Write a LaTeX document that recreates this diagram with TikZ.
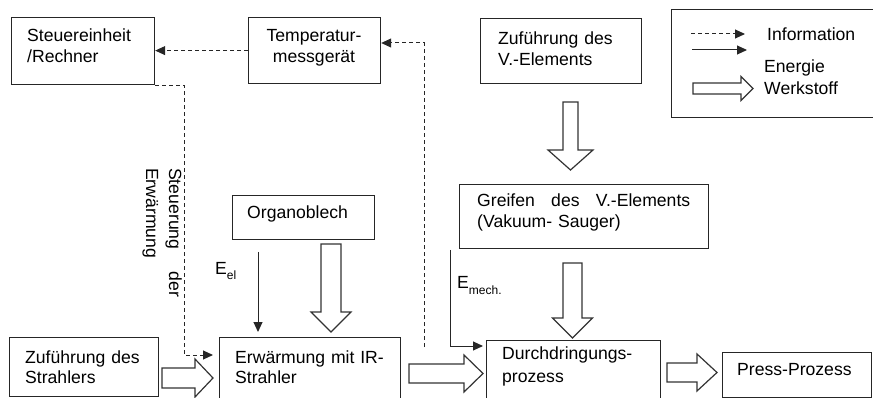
\documentclass[tikz,border=0pt]{standalone}
\usepackage{fontspec}
\setmainfont{Liberation Sans}
\usetikzlibrary{arrows.meta}

% hollow material-flow arrows
% \matright{x start}{head start}{tip}{y centre}{shaft half}{head half}
\newcommand\matright[6]{%
  \draw[mat] (#1,#4-#5) -- (#2,#4-#5) -- (#2,#4-#6) -- (#3,#4)
    -- (#2,#4+#6) -- (#2,#4+#5) -- (#1,#4+#5) -- cycle;}
% \matdown{y start}{head start}{tip}{x centre}{shaft half}{head half}
\newcommand\matdown[6]{%
  \draw[mat] (#4-#5,#1) -- (#4-#5,#2) -- (#4-#6,#2) -- (#4,#3)
    -- (#4+#6,#2) -- (#4+#5,#2) -- (#4+#5,#1) -- cycle;}

\begin{document}
\begin{tikzpicture}[x=1pt,y=-1pt,
  box/.style={draw=black!85, line width=1.2pt, rectangle, inner sep=0pt,
    anchor=north west},
  txt/.style={inner sep=0pt, anchor=base west, align=left, text width=175pt,
    font=\fontsize{17.6}{20.5}\selectfont},
  info/.style={draw=black!85, line width=1pt, dash pattern=on 4pt off 3pt,
    -{Triangle[length=10pt,width=9pt]}},
  energy/.style={draw=black!85, line width=1pt,
    -{Triangle[length=10pt,width=9pt]}},
  mat/.style={draw=black!80, line width=1.2pt, fill=white, line join=miter},
]
\useasboundingbox (0,0) rectangle (873,398);
\clip (0,0) rectangle (873,398);

% boxes
\node[box, minimum width=143pt, minimum height=67pt] (steuer)  at (11,17)  {};
\node[box, minimum width=132pt, minimum height=66pt] (temp)    at (248,17) {};
\node[box, minimum width=161pt, minimum height=65pt] (zufv)    at (480,18) {};
\node[box, minimum width=210pt, minimum height=108pt] (legend) at (671,9)  {};
\node[box, minimum width=249pt, minimum height=64pt] (greifen) at (459,184) {};
\node[box, minimum width=142pt, minimum height=44pt] (organo)  at (232,195) {};
\node[box, minimum width=149pt, minimum height=59pt] (zufs)    at (9,337)  {};
\node[box, minimum width=181pt, minimum height=70pt] (erw)     at (219,337) {};
\node[box, minimum width=174pt, minimum height=70pt] (durch)   at (486,340) {};
\node[box, minimum width=149pt, minimum height=45pt] (press)   at (722,352) {};

% box texts
\node[txt] (steuer-t) at (27,42) {Steuereinheit\\/Rechner};
\node[txt, anchor=base, align=center, text width=132pt] (temp-t) at (314,42)
  {Temperatur-\\messgerät};
\node[txt] (zufv-t) at (498,45) {Zuführung des\\V.-Elements};
\node[txt, text width=213pt] (greifen-t) at (477,207)
  {Greifen\hfill des\hfill V.-Elements\\(Vakuum- Sauger)};
\node[txt] (organo-t) at (247,219) {Organoblech};
\node[txt] (zufs-t) at (25,363) {Zuführung des\\Strahlers};
\node[txt] (erw-t) at (235,363) {Erwärmung mit IR-\\Strahler};
\node[txt, font=\fontsize{17.6}{23}\selectfont] (durch-t) at (502,359)
  {Durchdringungs-\\prozess};
\node[txt] (press-t) at (737,375) {Press-Prozess};

% legend
\coordinate (li1) at (691,34);  \coordinate (li2) at (745,34);
\coordinate (le1) at (692,50);  \coordinate (le2) at (747,50);
\draw[info] (li1) -- (li2);
\draw[energy] (le1) -- (le2);
\matright{693}{741}{753}{88.5}{5.5}{12}
\node[txt] (info-t) at (767,41) {Information};
\node[txt] (energie-t) at (764,73) {Energie};
\node[txt] (werkstoff-t) at (764,95) {Werkstoff};

% information flow
\draw[info] (temp.west) -- (temp.west -| steuer.east);
\coordinate (ctl) at (184,355);
\draw[info, shorten >=6pt] (steuer.south east) -| (ctl) -- (ctl -| erw.west);
\coordinate (fbot) at (424,347);
\coordinate (ftop) at (424,43);
\draw[info] (fbot) -- (ftop) -- (ftop -| temp.east);
\node[txt, rotate=-90, text width=129pt, font=\fontsize{17.6}{23}\selectfont]
  (steu-lbl) at (169,168) {Steuerung\hfill der\\Erwärmung};

% energy flow
\coordinate (eel) at (258,252);
\draw[energy, shorten >=5pt] (eel) -- (eel |- erw.north);
\node[txt, text width=] (eel-lbl) at (215,275)
  {E\raisebox{-5pt}{\fontsize{12}{12}\selectfont el}};
\coordinate (em) at (450,250);
\coordinate (emc) at (450,346);
\draw[energy, shorten >=3pt] (em) -- (emc) -- (emc -| durch.west);
\node[txt, text width=] (emech-lbl) at (457,288)
  {E\raisebox{-6pt}{\fontsize{12}{12}\selectfont mech.}};

% material flow
\matright{162}{195}{213}{378}{10}{19}
\matright{409}{464}{483}{373.5}{9.5}{18.5}
\matright{667}{697}{717}{372.5}{9.5}{18.5}
\matdown{244}{312}{332}{331}{10}{20}
\matdown{102}{150}{170}{570.5}{7.5}{22.5}
\matdown{263}{318}{338}{572.5}{9.5}{20}
\end{tikzpicture}
\end{document}
